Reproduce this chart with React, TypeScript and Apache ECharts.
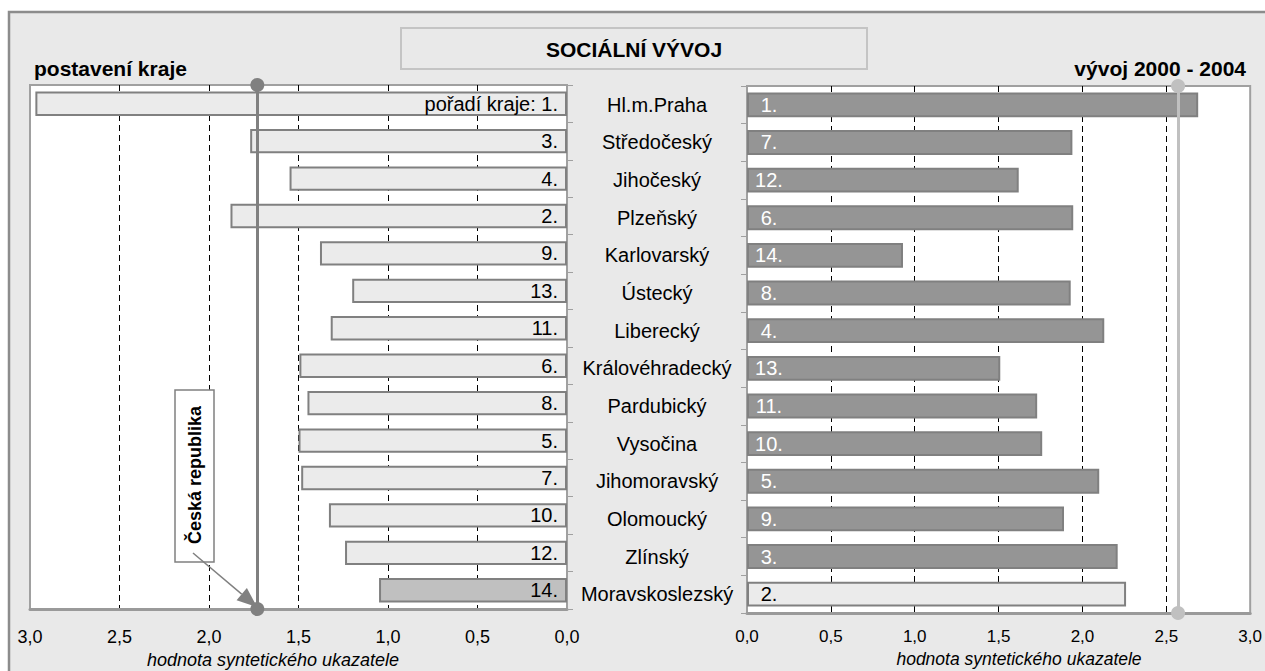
import React, { useEffect, useRef } from "react";
import * as echarts from "echarts";

const categories = [
  "Hl.m.Praha",
  "Středočeský",
  "Jihočeský",
  "Plzeňský",
  "Karlovarský",
  "Ústecký",
  "Liberecký",
  "Královéhradecký",
  "Pardubický",
  "Vysočina",
  "Jihomoravský",
  "Olomoucký",
  "Zlínský",
  "Moravskoslezský",
];
const positionValues = [2.97, 1.77, 1.55, 1.88, 1.38, 1.2, 1.32, 1.495, 1.45, 1.5, 1.485, 1.33, 1.24, 1.05];
const positionRanks = [1, 3, 4, 2, 9, 13, 11, 6, 8, 5, 7, 10, 12, 14];
const developmentValues = [2.69, 1.94, 1.62, 1.945, 0.93, 1.93, 2.13, 1.51, 1.73, 1.76, 2.1, 1.89, 2.21, 2.26];
const developmentRanks = [1, 7, 12, 6, 14, 8, 4, 13, 11, 10, 5, 9, 3, 2];
const axisTicks = [0, 0.5, 1, 1.5, 2, 2.5, 3];
const czPosition = 1.73;
const czDevelopment = 2.57;
const highlighted = "Moravskoslezský";

const chartTitle = "SOCIÁLNÍ VÝVOJ";
const leftTitle = "postavení kraje";
const rightTitle = "vývoj 2000 - 2004";
const axisName = "hodnota syntetického ukazatele";
const czLabel = "Česká republika";
const rankPrefix = "pořadí kraje: ";

const FONT = "'Liberation Sans', Arial, sans-serif";

export default function App() {
  const ref = useRef<HTMLDivElement>(null);

  useEffect(() => {
    document.body.style.margin = "0";
    document.body.style.overflow = "hidden";
    if (!ref.current) return;
    const chart = echarts.init(ref.current, null, { renderer: "svg" });

    const fmt = (v: number) => v.toFixed(1).replace(".", ",");
    const tickMin = axisTicks[0];
    const tickMax = axisTicks[axisTicks.length - 1];
    const tickInterval = axisTicks[1] - axisTicks[0];

    const leftData = positionValues.map((v, i) =>
      categories[i] === highlighted
        ? { value: v, itemStyle: { color: "#c0c0c0" } }
        : { value: v }
    );
    const rightData = developmentValues.map((v, i) =>
      categories[i] === highlighted
        ? { value: v, itemStyle: { color: "#ebebeb" }, label: { color: "#000" } }
        : { value: v }
    );

    // arrow geometry (annotation)
    const aStart = [193, 553];
    const aTip = [257, 607];
    const dx = aTip[0] - aStart[0];
    const dy = aTip[1] - aStart[1];
    const len = Math.sqrt(dx * dx + dy * dy);
    const ux = dx / len;
    const uy = dy / len;
    const headLen = 20;
    const headHalf = 8;
    const bx = aTip[0] - ux * headLen;
    const by = aTip[1] - uy * headLen;

    const valueAxisBase = (gridIndex: number, inverse: boolean, fontSize: number, margin: number) => ({
      gridIndex,
      type: "value",
      min: tickMin,
      max: tickMax,
      interval: tickInterval,
      inverse,
      axisLine: { show: true, lineStyle: { color: "#9a9a9a", width: 3 } },
      axisTick: { show: false },
      splitLine: {
        show: true,
        showMinLine: false,
        showMaxLine: false,
        lineStyle: { color: "#000", type: [6, 4], width: 1 },
      },
      axisLabel: { fontSize, color: "#000", margin, formatter: fmt, fontFamily: FONT },
    });

    chart.setOption({
      animation: false,
      backgroundColor: "#fff",
      textStyle: { fontFamily: FONT },
      grid: [
        {
          left: 30,
          top: 85,
          width: 537,
          height: 524,
          show: true,
          backgroundColor: "#fff",
          borderColor: "#a0a0a0",
          borderWidth: 2,
        },
        {
          left: 747,
          top: 86,
          width: 506,
          height: 527,
          show: true,
          backgroundColor: "#fff",
          borderColor: "#a0a0a0",
          borderWidth: 2,
        },
      ],
      xAxis: [valueAxisBase(0, true, 18, 19), valueAxisBase(1, false, 17, 15)],
      yAxis: [
        {
          gridIndex: 0,
          type: "category",
          data: categories,
          inverse: true,
          position: "right",
          axisLine: { show: true, lineStyle: { color: "#a0a0a0", width: 2 } },
          axisTick: { show: true, length: 6, lineStyle: { color: "#a0a0a0" } },
          axisLabel: { show: false },
        },
        {
          gridIndex: 1,
          type: "category",
          data: categories,
          inverse: true,
          position: "left",
          axisLine: { show: true, lineStyle: { color: "#a0a0a0", width: 2 } },
          axisTick: { show: true, length: 6, lineStyle: { color: "#a0a0a0" } },
          axisLabel: {
            show: true,
            align: "center",
            margin: 90,
            fontSize: 20,
            color: "#000",
            fontFamily: FONT,
          },
        },
      ],
      series: [
        {
          type: "bar",
          xAxisIndex: 0,
          yAxisIndex: 0,
          data: leftData,
          barCategoryGap: "35%",
          itemStyle: { color: "#ebebeb", borderColor: "#808080", borderWidth: 2 },
          label: {
            show: true,
            position: "insideRight",
            distance: 9,
            fontSize: 20,
            color: "#000",
            fontFamily: FONT,
            formatter: (p: any) =>
              p.dataIndex === 0
                ? `${rankPrefix}${positionRanks[p.dataIndex]}.`
                : `${positionRanks[p.dataIndex]}.`,
          },
          markLine: {
            silent: true,
            z: 10,
            symbol: ["circle", "circle"],
            symbolSize: 14,
            label: { show: false },
            lineStyle: { color: "#808080", width: 3, type: "solid" },
            itemStyle: { color: "#808080" },
            data: [{ xAxis: czPosition }],
          },
        },
        {
          type: "bar",
          xAxisIndex: 1,
          yAxisIndex: 1,
          data: rightData,
          barCategoryGap: "34%",
          itemStyle: { color: "#959595", borderColor: "#808080", borderWidth: 2 },
          label: {
            show: true,
            position: "insideLeft",
            distance: 22,
            align: "center",
            fontSize: 20,
            color: "#fff",
            fontFamily: FONT,
            formatter: (p: any) => `${developmentRanks[p.dataIndex]}.`,
          },
          markLine: {
            silent: true,
            z: 10,
            symbol: ["circle", "circle"],
            symbolSize: 14,
            label: { show: false },
            lineStyle: { color: "#c0c0c0", width: 3, type: "solid" },
            itemStyle: { color: "#c0c0c0" },
            data: [{ xAxis: czDevelopment }],
          },
        },
      ],
      graphic: [
        {
          type: "rect",
          z: -100,
          silent: true,
          shape: { x: 9, y: 12, width: 1275, height: 700 },
          style: { fill: "#e9e9e9", stroke: "#8c8c8c", lineWidth: 2.5 },
        },
        {
          type: "rect",
          z: -90,
          silent: true,
          shape: { x: 401, y: 28, width: 466, height: 41 },
          style: { fill: "#e9e9e9", stroke: "#c4c4c4", lineWidth: 2 },
        },
        {
          type: "text",
          z: 100,
          x: 634,
          y: 49,
          style: {
            text: chartTitle,
            font: `bold 21px ${FONT}`,
            textAlign: "center",
            textVerticalAlign: "middle",
            fill: "#000",
          },
        },
        {
          type: "text",
          z: 100,
          x: 34,
          y: 68,
          style: {
            text: leftTitle,
            font: `bold 21px ${FONT}`,
            textAlign: "left",
            textVerticalAlign: "middle",
            fill: "#000",
          },
        },
        {
          type: "text",
          z: 100,
          x: 1246,
          y: 68,
          style: {
            text: rightTitle,
            font: `bold 21px ${FONT}`,
            textAlign: "right",
            textVerticalAlign: "middle",
            fill: "#000",
          },
        },
        {
          type: "text",
          z: 100,
          x: 273,
          y: 660,
          style: {
            text: axisName,
            font: `italic 18px ${FONT}`,
            textAlign: "center",
            textVerticalAlign: "middle",
            fill: "#000",
          },
        },
        {
          type: "text",
          z: 100,
          x: 1019,
          y: 659,
          style: {
            text: axisName,
            font: `italic 17.5px ${FONT}`,
            textAlign: "center",
            textVerticalAlign: "middle",
            fill: "#000",
          },
        },
        {
          type: "rect",
          z: 100,
          silent: true,
          shape: { x: 175, y: 390, width: 39, height: 172 },
          style: { fill: "#fff", stroke: "#808080", lineWidth: 1.5 },
        },
        {
          type: "text",
          z: 101,
          x: 195,
          y: 475,
          rotation: Math.PI / 2,
          style: {
            text: czLabel,
            font: `bold 18px ${FONT}`,
            textAlign: "center",
            textVerticalAlign: "middle",
            fill: "#000",
          },
        },
        {
          type: "line",
          z: 101,
          silent: true,
          shape: { x1: aStart[0], y1: aStart[1], x2: bx, y2: by },
          style: { stroke: "#808080", lineWidth: 1.5 },
        },
        {
          type: "polygon",
          z: 101,
          silent: true,
          shape: {
            points: [
              [aTip[0], aTip[1]],
              [bx - uy * headHalf, by + ux * headHalf],
              [bx + uy * headHalf, by - ux * headHalf],
            ],
          },
          style: { fill: "#808080" },
        },
      ],
    });

    return () => chart.dispose();
  }, []);

  return <div ref={ref} style={{ width: 1265, height: 671 }} />;
}
